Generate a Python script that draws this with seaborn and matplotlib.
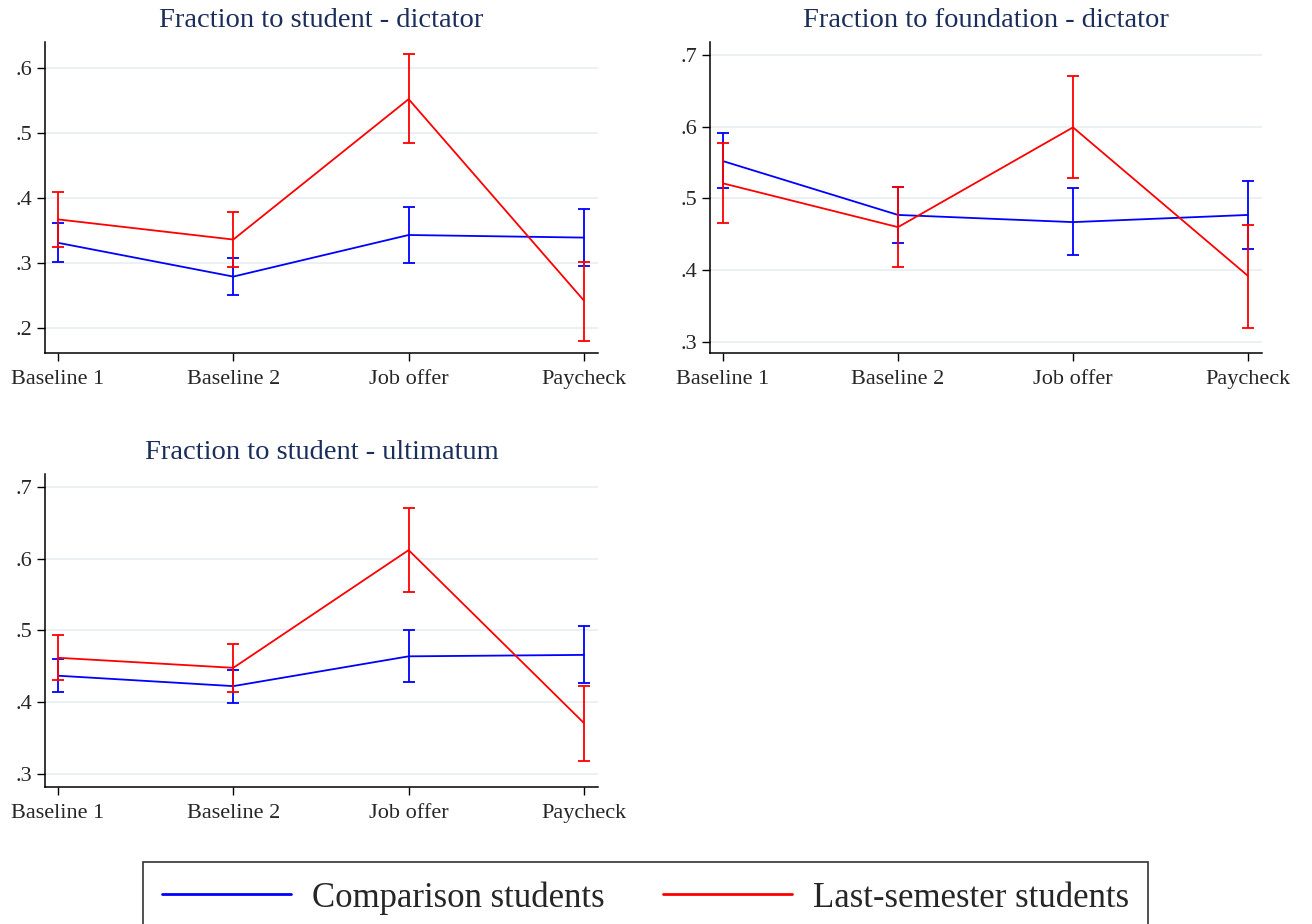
import numpy as np
import pandas as pd
import matplotlib
matplotlib.use("Agg")
import matplotlib.pyplot as plt
from matplotlib.lines import Line2D
import seaborn as sns

# Treatment stages on the x axis
stages = ["Baseline 1", "Baseline 2", "Job offer", "Paycheck"]
groups = ["Comparison students", "Last-semester students"]
colors = {"Comparison students": "#0000ff", "Last-semester students": "#ff0000"}

# Fraction to student - dictator
dict_student_comp = [0.331, 0.279, 0.343, 0.339]
dict_student_comp_lo = [0.301, 0.250, 0.300, 0.295]
dict_student_comp_hi = [0.361, 0.307, 0.386, 0.383]
dict_student_last = [0.367, 0.336, 0.552, 0.242]
dict_student_last_lo = [0.325, 0.293, 0.484, 0.180]
dict_student_last_hi = [0.409, 0.378, 0.621, 0.302]

# Fraction to foundation - dictator
dict_found_comp = [0.552, 0.477, 0.467, 0.477]
dict_found_comp_lo = [0.514, 0.438, 0.421, 0.429]
dict_found_comp_hi = [0.591, 0.516, 0.514, 0.524]
dict_found_last = [0.521, 0.460, 0.599, 0.392]
dict_found_last_lo = [0.466, 0.405, 0.529, 0.320]
dict_found_last_hi = [0.577, 0.516, 0.670, 0.463]

# Fraction to student - ultimatum
ult_student_comp = [0.437, 0.4225, 0.464, 0.466]
ult_student_comp_lo = [0.415, 0.399, 0.428, 0.427]
ult_student_comp_hi = [0.460, 0.445, 0.500, 0.506]
ult_student_last = [0.462, 0.448, 0.612, 0.371]
ult_student_last_lo = [0.431, 0.415, 0.554, 0.318]
ult_student_last_hi = [0.494, 0.481, 0.671, 0.423]

panels = [
    dict(title="Fraction to student - dictator",
         comp=(dict_student_comp, dict_student_comp_lo, dict_student_comp_hi),
         last=(dict_student_last, dict_student_last_lo, dict_student_last_hi),
         yticks=[0.2, 0.3, 0.4, 0.5, 0.6], ylim=(0.1615, 0.640),
         rect=[0.0343, 0.618, 0.4215, 0.3366]),
    dict(title="Fraction to foundation - dictator",
         comp=(dict_found_comp, dict_found_comp_lo, dict_found_comp_hi),
         last=(dict_found_last, dict_found_last_lo, dict_found_last_hi),
         yticks=[0.3, 0.4, 0.5, 0.6, 0.7], ylim=(0.2847, 0.718),
         rect=[0.5412, 0.618, 0.4207, 0.3366]),
    dict(title="Fraction to student - ultimatum",
         comp=(ult_student_comp, ult_student_comp_lo, ult_student_comp_hi),
         last=(ult_student_last, ult_student_last_lo, ult_student_last_hi),
         yticks=[0.3, 0.4, 0.5, 0.6, 0.7], ylim=(0.282, 0.718),
         rect=[0.0343, 0.1483, 0.4215, 0.3387]),
]

sns.set_style("white")
plt.rcParams["font.family"] = ["Liberation Serif", "DejaVu Serif"]

fig = plt.figure(figsize=(13.12, 9.24), dpi=100)
fig.patch.set_facecolor("white")

xpos = np.arange(len(stages))

for p in panels:
    ax = fig.add_axes(p["rect"])
    frames = []
    for g, key in zip(groups, ["comp", "last"]):
        mean, lo, hi = p[key]
        frames.append(pd.DataFrame({"x": xpos, "value": mean, "lo": lo, "hi": hi, "group": g}))
    df = pd.concat(frames, ignore_index=True)

    for g in groups:
        sub = df[df["group"] == g]
        ax.errorbar(sub["x"], sub["value"],
                    yerr=[sub["value"] - sub["lo"], sub["hi"] - sub["value"]],
                    fmt="none", ecolor=colors[g], elinewidth=1.3, capsize=4,
                    capthick=1.3, zorder=3)
        sns.lineplot(data=sub, x="x", y="value", color=colors[g], linewidth=1.3,
                     ax=ax, legend=False, zorder=3)

    ax.set_xlim(-0.074, 3.08)
    ax.set_ylim(*p["ylim"])
    ax.set_xticks(xpos)
    ax.set_xticklabels(stages, fontsize=16)
    ax.set_yticks(p["yticks"])
    ax.set_yticklabels([f"{t:.1f}".lstrip("0") for t in p["yticks"]], fontsize=16)
    ax.set_xlabel("")
    ax.set_ylabel("")
    ax.grid(axis="y", color="#e8eff2", linewidth=1.3)
    ax.set_axisbelow(True)
    for side in ["top", "right"]:
        ax.spines[side].set_visible(False)
    for side in ["left", "bottom"]:
        ax.spines[side].set_color("black")
        ax.spines[side].set_linewidth(1.1)
    ax.tick_params(axis="both", which="major", direction="out", length=6,
                   width=1.0, color="black", left=True, bottom=True, pad=3)
    ax.tick_params(axis="x", pad=6)
    ax.set_title(p["title"], fontsize=20.5, color="#1a2e5a", pad=11)

handles = [Line2D([0], [0], color=colors[g], linewidth=2.0) for g in groups]
leg = fig.legend(handles, groups, loc="upper center",
                 bbox_to_anchor=(0.492, 1 - 862 / 924), ncol=2, fontsize=25,
                 frameon=True, fancybox=False, edgecolor="black",
                 handlelength=3.7, handletextpad=0.6, columnspacing=1.7,
                 borderpad=0.55, borderaxespad=0)
leg.get_frame().set_linewidth(1.2)

fig.savefig("out.png", dpi=100, facecolor="white")
